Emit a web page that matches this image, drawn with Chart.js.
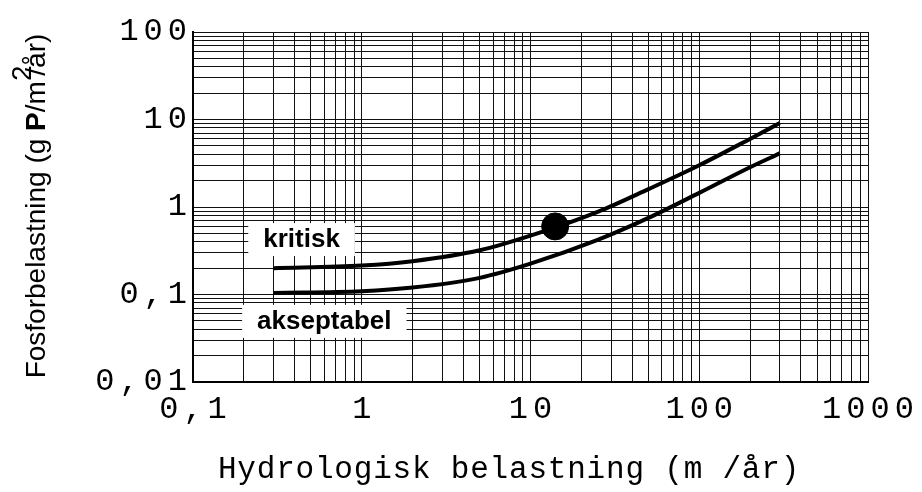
<!DOCTYPE html>
<html>
<head>
<meta charset="utf-8">
<script src="https://cdn.jsdelivr.net/npm/chart.js@4.4.0/dist/chart.umd.min.js"></script>
<style>
  body { margin: 0; background: #fff; }
  #wrap { width: 922px; height: 492px; position: relative; }
</style>
</head>
<body>
<div id="wrap"><canvas id="myChart"></canvas></div>
<script>
// -- data --
const xValues = [0.3, 1, 2, 5, 10, 25, 50, 100, 200, 300];
const yKritisk = [0.2, 0.214, 0.24, 0.32, 0.47, 0.88, 1.6, 3.0, 6.0, 9.1];
const yAkseptabel = [0.104, 0.109, 0.12, 0.155, 0.225, 0.42, 0.75, 1.45, 2.85, 4.1];
const xPunkt = [14];
const yPunkt = [0.6];

// tick labels (decades) and the 1..9 steps between them
const xDecades = [0.1, 1, 10, 100, 1000];
const yDecades = [0.01, 0.1, 1, 10, 100];
const xTickLabels = ['0,1', '1', '10', '100', '1000'];
const yTickLabels = ['0,01', '0,1', '1', '10', '100'];
const steps = [1, 2, 3, 4, 5, 6, 7, 8, 9];

// curve labels, placed in data units
const curveLabels = ['kritisk', 'akseptabel'];
const curveLabelX = [0.44, 0.6];
const curveLabelY = [0.43, 0.05];

const xTitle = 'Hydrologisk belastning (m /år)';

function gridTicks(decades)
{
    let arr = [];
    for (let i = 0; i < decades.length - 1; ++i)
        for (let s of steps)
            arr.push({ value: +(decades[i] * s).toPrecision(3) });
    arr.push({ value: decades[decades.length - 1] });
    return arr;
}

function toPoints(xs, ys)
{
    return xs.map((x, i) => ({ x: x, y: ys[i] }));
}

// --> labels, titles and boxes drawn over the chart <--
const textPlugin = {
    id: 'textPlugin',
    afterDraw(chart)
    {
        const ctx = chart.ctx;
        const xs = chart.scales.x;
        const ys = chart.scales.y;
        const area = chart.chartArea;

        ctx.save();
        ctx.fillStyle = '#000';

        // tick labels
        ctx.font = '32px "Liberation Mono"';
        ctx.letterSpacing = '5px';
        ctx.textBaseline = 'middle';
        ctx.textAlign = 'left';
        yDecades.forEach((v, i) => {
            const w = ctx.measureText(yTickLabels[i]).width - 5;
            ctx.fillText(yTickLabels[i], area.left - 6 - w, ys.getPixelForValue(v));
        });
        xDecades.forEach((v, i) => {
            const w = ctx.measureText(xTickLabels[i]).width - 5;
            ctx.fillText(xTickLabels[i], xs.getPixelForValue(v) - w / 2, area.bottom + 28);
        });

        // x title
        ctx.font = '31px "Liberation Mono"';
        ctx.letterSpacing = '0.8px';
        const tw = ctx.measureText(xTitle).width;
        ctx.fillText(xTitle, 509 - tw / 2, 470);

        // y title, rotated
        ctx.letterSpacing = '0px';
        ctx.translate(37, 206);
        ctx.rotate(-Math.PI / 2);
        const parts = [
            ['Fosforbelastning (g ', '28px "Liberation Sans"', 0],
            ['P', 'bold 28px "Liberation Sans"', 0],
            ['/m', '28px "Liberation Sans"', 0],
            ['2', '28px "Liberation Sans"', -14],
            ['/år)', '28px "Liberation Sans"', 0]
        ];
        let total = 0;
        for (let p of parts) { ctx.font = p[1]; total += ctx.measureText(p[0]).width * (p[0] === '2' ? 0.35 : 1); }
        let px = -total / 2;
        for (let p of parts)
        {
            ctx.font = p[1];
            ctx.fillText(p[0], px, p[2]);
            px += ctx.measureText(p[0]).width * (p[0] === '2' ? 0.35 : 1);
        }
        ctx.restore();

        // curve label boxes
        ctx.save();
        ctx.font = 'bold 26px "Liberation Sans"';
        ctx.textBaseline = 'middle';
        ctx.textAlign = 'center';
        curveLabels.forEach((t, i) => {
            const cx = xs.getPixelForValue(curveLabelX[i]);
            const cy = ys.getPixelForValue(curveLabelY[i]);
            const w = ctx.measureText(t).width + 30;
            ctx.fillStyle = '#fff';
            ctx.fillRect(cx - w / 2, cy - 16, w, 33);
            ctx.fillStyle = '#000';
            ctx.fillText(t, cx, cy + 1);
        });
        ctx.restore();
    }
};

let chartObj = {
    type: 'line',
    data: {
        datasets: [{
            label: 'kritisk',
            data: toPoints(xValues, yKritisk),
            borderColor: '#000',
            borderWidth: 4,
            pointRadius: 0,
            cubicInterpolationMode: 'monotone'
        },
        {
            label: 'akseptabel',
            data: toPoints(xValues, yAkseptabel),
            borderColor: '#000',
            borderWidth: 4,
            pointRadius: 0,
            cubicInterpolationMode: 'monotone'
        },
        {
            label: 'punkt',
            data: toPoints(xPunkt, yPunkt),
            showLine: false,
            pointRadius: 13.5,
            pointBackgroundColor: '#000',
            pointBorderColor: '#000'
        }]
    },
    options: {
        responsive: true,
        maintainAspectRatio: false,
        animation: false,
        layout: { padding: { left: 193, right: 54, top: 32, bottom: 110 } },
        plugins: { legend: { display: false }, tooltip: { enabled: false } },
        scales: {
            x: {
                type: 'logarithmic',
                min: 0.1,
                max: 1000,
                afterBuildTicks: (scale) => { scale.ticks = gridTicks(xDecades); },
                ticks: { display: false, autoSkip: false },
                grid: { color: '#111', lineWidth: 1, drawTicks: false, tickLength: 0 },
                border: { color: '#000', width: 2 }
            },
            y: {
                type: 'logarithmic',
                min: 0.01,
                max: 100,
                afterBuildTicks: (scale) => { scale.ticks = gridTicks(yDecades); },
                ticks: { display: false, autoSkip: false },
                grid: { color: '#111', lineWidth: 1, drawTicks: false, tickLength: 0 },
                border: { color: '#000', width: 2 }
            }
        }
    },
    plugins: [textPlugin]
};

const ctx = document.getElementById('myChart').getContext('2d');
const myChart = new Chart(ctx, chartObj);
</script>
</body>
</html>
